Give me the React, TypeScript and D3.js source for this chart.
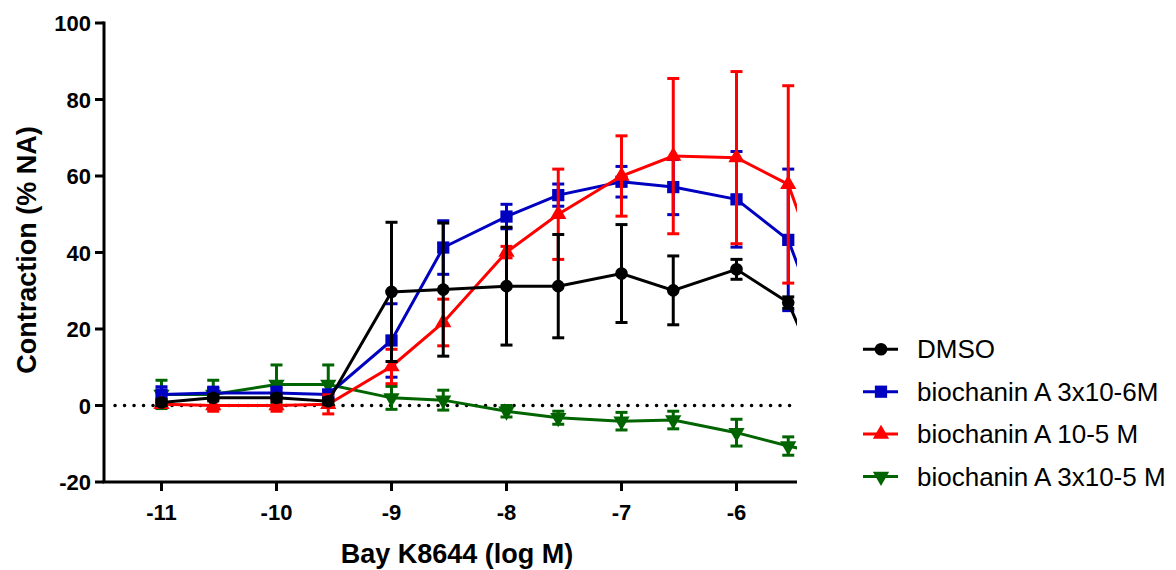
import * as d3 from "d3";

// log concentrations of Bay K8644 (last one lies past the axis end and is clipped)
const doses = [-11, -10.55, -10, -9.55, -9, -8.55, -8, -7.55, -7, -6.55, -6, -5.55, -5];

const dmsoMean = [0.8, 2.0, 2.0, 1.1, 29.7, 30.3, 31.2, 31.2, 34.5, 30.1, 35.6, 26.9, -11];
const dmsoErr = [0.8, 0.8, 1.0, 0.8, 18.2, 17.4, 15.4, 13.5, 12.8, 9.0, 2.6, 1.5, 0];

const bio3e6Mean = [2.9, 3.3, 3.3, 2.9, 17.0, 41.3, 49.4, 55.0, 58.5, 57.1, 53.9, 43.3, -1];
const bio3e6Err = [2.0, 1.5, 1.5, 1.0, 9.6, 7.0, 3.2, 2.9, 4.0, 7.2, 12.5, 18.5, 0];

const bio1e5Mean = [0.3, 0, 0, 0.3, 10.2, 21.7, 40.1, 50.0, 60.0, 65.2, 64.8, 57.8, 12];
const bio1e5Err = [0.5, 1.5, 1.5, 2.5, 4.5, 6.1, 1.5, 11.8, 10.5, 20.3, 22.5, 25.8, 0];

const bio3e5Mean = [2.9, 2.9, 5.5, 5.5, 2.0, 1.4, -1.5, -3.2, -4.1, -3.8, -7.1, -10.6, -14];
const bio3e5Err = [3.7, 3.7, 5.1, 5.1, 3.0, 2.6, 1.5, 1.7, 2.3, 2.3, 3.5, 2.4, 0];

const seriesNames = ["DMSO", "biochanin A 3x10-6M", "biochanin A 10-5 M", "biochanin A 3x10-5 M"];
const xTicks = [-11, -10, -9, -8, -7, -6];
const yTicks = [-20, 0, 20, 40, 60, 80, 100];

const FONT = "'Liberation Sans', Arial, sans-serif";

const series = [
  { name: seriesNames[0], mean: dmsoMean, err: dmsoErr, color: "#000000", shape: "circle" },
  { name: seriesNames[1], mean: bio3e6Mean, err: bio3e6Err, color: "#0000c0", shape: "square" },
  { name: seriesNames[2], mean: bio1e5Mean, err: bio1e5Err, color: "#ff0000", shape: "up" },
  { name: seriesNames[3], mean: bio3e5Mean, err: bio3e5Err, color: "#006400", shape: "down" },
];

const symbolPath = (shape: string) => {
  if (shape === "circle") return d3.symbol(d3.symbolCircle, 125)()!;
  if (shape === "square") return d3.symbol(d3.symbolSquare, 150)()!;
  return d3.symbol(d3.symbolTriangle, 115)()!;
};

const Marker = ({ shape, color, x, y }: { shape: string; color: string; x: number; y: number }) => (
  <path
    d={symbolPath(shape)}
    fill={color}
    transform={`translate(${x},${y})${shape === "down" ? " rotate(180)" : ""}`}
  />
);

const App = () => {
  const width = 1176;
  const height = 570;

  const x = d3.scaleLinear().domain([-11.5, -5.5]).range([104, 794]);
  const y = d3.scaleLinear().domain([-20, 100]).range([482, 23]);
  const plotRight = 797;

  const line = d3
    .line<number>()
    .x((d, i) => x(doses[i]))
    .y((d) => y(d));

  // draw order: green at the back, black on top
  const drawOrder = [3, 1, 2, 0];

  return (
    <svg
      width={width}
      height={height}
      style={{ position: "absolute", left: 0, top: 0, background: "#fff" }}
      fontFamily={FONT}
    >
      <defs>
        <clipPath id="plotclip">
          <rect x={95} y={0} width={plotRight - 95} height={height} />
        </clipPath>
      </defs>

      {/* zero reference line */}
      <line
        x1={115}
        x2={plotRight}
        y1={y(0)}
        y2={y(0)}
        stroke="#000"
        strokeWidth={3.5}
        strokeLinecap="round"
        strokeDasharray="0.1 9.4"
      />

      <g clipPath="url(#plotclip)">
        {drawOrder.map((si) => {
          const s = series[si];
          return (
            <g key={s.name}>
              <path d={line(s.mean)!} fill="none" stroke={s.color} strokeWidth={3} />
              {s.mean.map((m, i) => {
                const e = s.err[i];
                if (e <= 0) return null;
                const cx = x(doses[i]);
                return (
                  <g key={i} stroke={s.color} strokeWidth={3}>
                    <line x1={cx} x2={cx} y1={y(m + e)} y2={y(m - e)} />
                    <line x1={cx - 6} x2={cx + 6} y1={y(m + e)} y2={y(m + e)} />
                    <line x1={cx - 6} x2={cx + 6} y1={y(m - e)} y2={y(m - e)} />
                  </g>
                );
              })}
              {s.mean.map((m, i) => (
                <Marker key={"m" + i} shape={s.shape} color={s.color} x={x(doses[i])} y={y(m)} />
              ))}
            </g>
          );
        })}
      </g>

      {/* y axis */}
      <g>
        <line x1={104} x2={104} y1={y(100) - 1.5} y2={y(-20)} stroke="#000" strokeWidth={3} />
        {yTicks.map((t) => (
          <g key={t} transform={`translate(0,${y(t)})`}>
            <line x1={95} x2={104} y1={0} y2={0} stroke="#000" strokeWidth={3} />
            <text x={91} y={8} textAnchor="end" fontSize={22} fontWeight="bold" fill="#000">
              {t}
            </text>
          </g>
        ))}
      </g>

      {/* x axis */}
      <g>
        <line x1={102.5} x2={plotRight} y1={y(-20)} y2={y(-20)} stroke="#000" strokeWidth={3} />
        {xTicks.map((t) => (
          <g key={t} transform={`translate(${x(t)},0)`}>
            <line x1={0} x2={0} y1={y(-20)} y2={y(-20) + 9} stroke="#000" strokeWidth={3} />
            <text x={0} y={520} textAnchor="middle" fontSize={22} fontWeight="bold" fill="#000">
              {t}
            </text>
          </g>
        ))}
      </g>

      <text x={457} y={563} textAnchor="middle" fontSize={27} fontWeight="bold" fill="#000">
        Bay K8644 (log M)
      </text>
      <text
        transform="translate(36,250) rotate(-90)"
        textAnchor="middle"
        fontSize={27}
        fontWeight="bold"
        fill="#000"
      >
        Contraction (% NA)
      </text>

      {/* legend */}
      {series.map((s, i) => {
        const ly = 349.3 + i * 42.4;
        return (
          <g key={s.name}>
            <line x1={863} x2={898} y1={ly} y2={ly} stroke={s.color} strokeWidth={3} />
            <Marker shape={s.shape} color={s.color} x={881} y={ly} />
            <text x={917} y={ly + 9} fontSize={26} fill="#000">
              {s.name}
            </text>
          </g>
        );
      })}
    </svg>
  );
};

export default App;
